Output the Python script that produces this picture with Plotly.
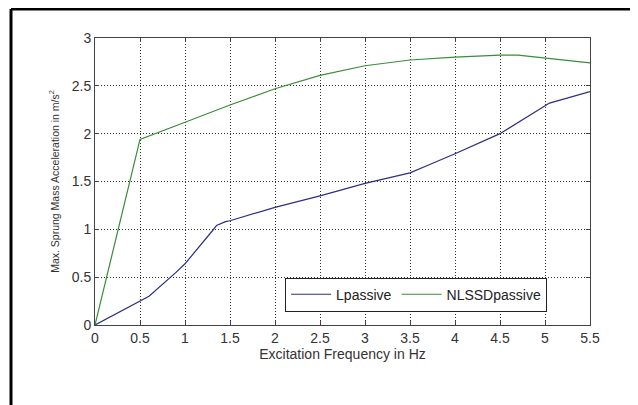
import plotly.graph_objects as go

freq_l = [0, 0.5, 0.6, 0.9, 1.0, 1.3, 1.35, 1.45, 1.5, 2.0, 2.5, 3.0, 3.5, 3.7, 4.0, 4.5, 5.0, 5.05, 5.5]
acc_l = [0, 0.25, 0.30, 0.55, 0.64, 0.98, 1.04, 1.08, 1.09, 1.23, 1.35, 1.48, 1.59, 1.67, 1.79, 2.0, 2.29, 2.32, 2.44]

freq_n = [0, 0.5, 1.0, 1.5, 2.0, 2.5, 3.0, 3.5, 4.0, 4.5, 4.7, 5.0, 5.5]
acc_n = [0, 1.94, 2.12, 2.30, 2.47, 2.61, 2.71, 2.77, 2.80, 2.82, 2.82, 2.79, 2.74]

x_ticks = [0, 0.5, 1, 1.5, 2, 2.5, 3, 3.5, 4, 4.5, 5, 5.5]
x_labels = ["0", "0.5", "1", "1.5", "2", "2.5", "3", "3.5", "4", "4.5", "5", "5.5"]
y_ticks = [0, 0.5, 1, 1.5, 2, 2.5, 3]
y_labels = ["0", "0.5", "1", "1.5", "2", "2.5", "3"]

fig = go.Figure()
fig.add_trace(go.Scatter(x=freq_l, y=acc_l, mode="lines", name="Lpassive",
                         line=dict(color="#2e2e82", width=1.2)))
fig.add_trace(go.Scatter(x=freq_n, y=acc_n, mode="lines", name="NLSSDpassive",
                         line=dict(color="#3a8c3a", width=1.2)))

axis_common = dict(showline=True, linecolor="#444", linewidth=1, mirror="ticks",
                   ticks="inside", ticklen=4, tickcolor="#444",
                   showgrid=True, gridcolor="#333", griddash="1px,2px", gridwidth=1,
                   zeroline=False, tickfont=dict(family="Liberation Sans, Arial", size=14, color="#333"))

fig.update_layout(
    width=638, height=405,
    margin=dict(l=87, r=56, t=30, b=88),
    paper_bgcolor="white", plot_bgcolor="white",
    font=dict(family="Liberation Sans, Arial", size=12, color="#333"),
    xaxis=dict(range=[0, 5.5], tickvals=x_ticks, ticktext=x_labels,
               title=dict(text="Excitation Frequency in Hz", standoff=0,
                          font=dict(size=14, color="#333")), **axis_common),
    yaxis=dict(range=[0, 3], tickvals=y_ticks, ticktext=y_labels,
               title=dict(text="Max. Sprung Mass Acceleration in m/s<sup>2</sup>", standoff=10,
                          font=dict(size=10.5, color="#333")), **axis_common),
    legend=dict(orientation="h", x=0.384, y=0.165, xanchor="left", yanchor="top",
                bordercolor="#222", borderwidth=1, bgcolor="white",
                font=dict(size=14, color="#222"), itemwidth=40),
    showlegend=True,
)

# outer figure frame (left and top edges)
fig.add_shape(type="line", xref="paper", yref="paper", x0=-0.1697, x1=-0.1697, y0=-0.35, y1=1.101,
              line=dict(color="black", width=3))
fig.add_shape(type="line", xref="paper", yref="paper", x0=-0.1697, x1=1.2, y0=1.101, y1=1.101,
              line=dict(color="black", width=3))

fig.write_html("out.html")
